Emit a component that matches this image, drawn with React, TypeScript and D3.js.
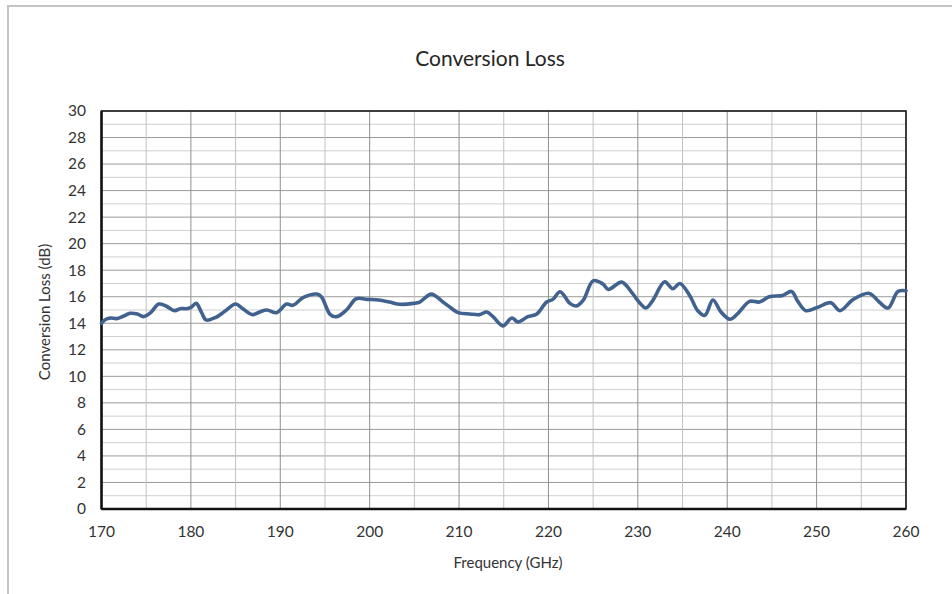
import { line, curveCatmullRom, scaleLinear, range } from 'd3'

const freqGHz = [
  170.0, 170.5, 171.0, 171.7, 172.5, 173.2, 174.0, 174.7, 175.5, 176.4, 177.2, 178.2, 178.8, 179.5,
  180.0, 180.6, 181.2, 181.7, 182.8, 183.8, 185.0, 185.8, 186.9, 187.7, 188.5, 189.6, 190.7, 191.4,
  192.6, 194.1, 194.6, 195.6, 196.3, 197.4, 198.5, 199.7, 201.0, 202.2, 203.4, 204.9, 205.6, 206.9,
  208.2, 209.0, 209.9, 211.2, 212.3, 213.1, 213.8, 214.9, 215.9, 216.6, 217.7, 218.7, 219.8, 220.5,
  221.3, 222.4, 223.1, 223.9, 225.0, 226.1, 226.7, 228.2, 229.4, 230.2, 230.9, 231.7, 233.0, 233.9,
  234.7, 235.8, 236.7, 237.5, 238.4, 239.3, 240.3, 241.2, 242.5, 243.6, 244.7, 246.2, 247.2, 247.9,
  248.8, 250.1, 251.6, 252.6, 254.1, 255.9, 257.0, 258.0, 259.1, 260.0,
]

const lossDb = [
  14.0, 14.3, 14.4, 14.35, 14.55, 14.75, 14.7, 14.5, 14.8, 15.45, 15.3, 14.95, 15.1, 15.1,
  15.2, 15.5, 14.8, 14.25, 14.45, 14.9, 15.45, 15.1, 14.65, 14.85, 15.0, 14.8, 15.45, 15.35,
  15.95, 16.2, 16.0, 14.65, 14.5, 15.0, 15.85, 15.8, 15.75, 15.6, 15.43, 15.5, 15.6, 16.2,
  15.6, 15.2, 14.8, 14.7, 14.65, 14.85, 14.5, 13.8, 14.4, 14.1, 14.5, 14.7, 15.6, 15.8,
  16.38, 15.5, 15.3, 15.75, 17.2, 16.96, 16.55, 17.1, 16.25, 15.55, 15.15, 15.75, 17.13, 16.6,
  17.0, 16.1, 14.95, 14.6, 15.75, 14.85, 14.3, 14.75, 15.65, 15.6, 16.0, 16.1, 16.4, 15.65,
  14.95, 15.2, 15.55, 14.95, 15.8, 16.25, 15.6, 15.15, 16.4, 16.45,
]

const xTicks = [170, 180, 190, 200, 210, 220, 230, 240, 250, 260]
const yTicks = [0, 2, 4, 6, 8, 10, 12, 14, 16, 18, 20, 22, 24, 26, 28, 30]

const FONT = "Lato, 'Open Sans', sans-serif"

export default function App() {
  const width = 952
  const height = 594
  const plot = { left: 101.5, right: 906, top: 111, bottom: 509 }

  const x = scaleLinear().domain([170, 260]).range([plot.left, plot.right])
  const y = scaleLinear().domain([0, 30]).range([plot.bottom, plot.top])

  const path = line<number>()
    .x((_, i) => x(freqGHz[i]))
    .y(d => y(d))
    .curve(curveCatmullRom.alpha(0.5))(lossDb)

  const xGrid = range(170, 261, 5)
  const yGrid = range(0, 31, 1)

  return (
    <div style={{ position: 'absolute', left: 0, top: 0 }}>
      <svg width={width} height={height} style={{ display: 'block', background: '#fff' }}>
        <rect x={8} y={6} width={width + 10} height={height + 10} fill="#fff" stroke="#c4c4c4" strokeWidth={2} />

        <text x={490} y={66} textAnchor="middle" fontFamily={FONT} fontSize={21} fill="#262626">
          Conversion Loss
        </text>

        {yGrid.map(v => (
          <line
            key={`h${v}`}
            x1={plot.left}
            x2={plot.right}
            y1={y(v)}
            y2={y(v)}
            stroke={v % 2 === 0 ? '#9a9a9a' : '#cfcfcf'}
            strokeWidth={1}
          />
        ))}
        {xGrid.map(f => (
          <line
            key={`v${f}`}
            x1={x(f)}
            x2={x(f)}
            y1={plot.top}
            y2={plot.bottom}
            stroke={f % 10 === 0 ? '#8f8f8f' : '#c2c2c2'}
            strokeWidth={1}
          />
        ))}

        <rect
          x={plot.left}
          y={plot.top}
          width={plot.right - plot.left}
          height={plot.bottom - plot.top}
          fill="none"
          stroke="#111"
          strokeWidth={1.5}
        />
        <line x1={plot.left} x2={plot.left} y1={plot.top} y2={plot.bottom} stroke="#111" strokeWidth={2.5} />
        <line x1={plot.left} x2={plot.right} y1={plot.bottom} y2={plot.bottom} stroke="#111" strokeWidth={2.5} />

        <path d={path ?? ''} fill="none" stroke="#41628e" strokeWidth={3.6} strokeLinejoin="round" strokeLinecap="round" />

        {yTicks.map(v => (
          <text
            key={`yt${v}`}
            x={86}
            y={y(v)}
            dy="0.35em"
            textAnchor="end"
            fontFamily={FONT}
            fontSize={15.5}
            fill="#333"
          >
            {v}
          </text>
        ))}
        {xTicks.map(f => (
          <text
            key={`xt${f}`}
            x={x(f)}
            y={537}
            textAnchor="middle"
            fontFamily={FONT}
            fontSize={15.5}
            fill="#333"
          >
            {f}
          </text>
        ))}

        <text
          transform={`translate(50, 312) rotate(-90)`}
          textAnchor="middle"
          fontFamily={FONT}
          fontSize={15}
          fill="#333"
        >
          Conversion Loss (dB)
        </text>
        <text x={508} y={568} textAnchor="middle" fontFamily={FONT} fontSize={15} fill="#333">
          Frequency (GHz)
        </text>
      </svg>
    </div>
  )
}
